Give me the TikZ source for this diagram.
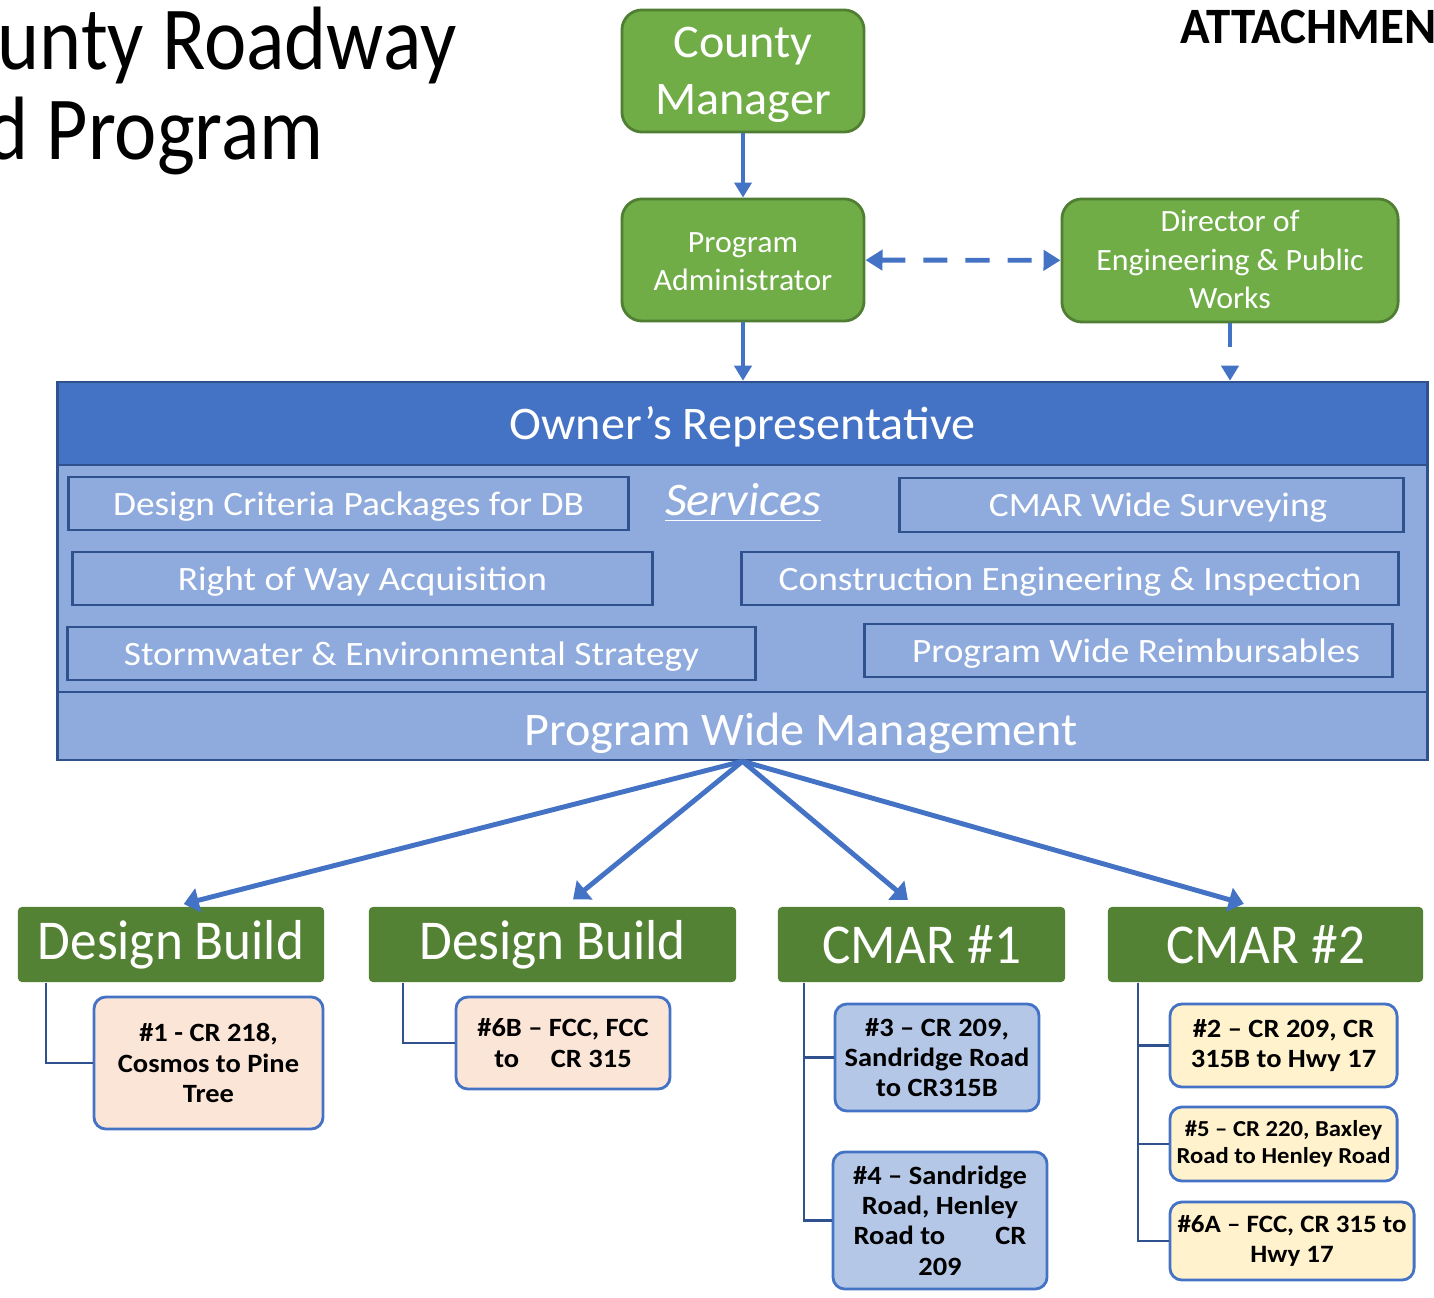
\documentclass[tikz,border=0pt]{standalone}
\usepackage{fontspec}
\setmainfont{Carlito}[FakeStretch=1.03]
\newfontfamily\svcfont{Carlito}[FakeStretch=1.095]
\newfontfamily\projfont{Carlito}[FakeStretch=1.08]
\newfontfamily\phasefont{Carlito}[FakeStretch=0.945]
\newfontfamily\titlefont{Carlito}[FakeStretch=0.89]
\newfontfamily\attfont{Carlito}[FakeStretch=0.96]
\usetikzlibrary{arrows.meta,positioning}
\definecolor{lgreen}{HTML}{70AD47}
\definecolor{lgreenline}{HTML}{507E32}
\definecolor{dgreen}{HTML}{548235}
\definecolor{dblue}{HTML}{4472C4}
\definecolor{dblueline}{HTML}{2F528F}
\definecolor{lblue}{HTML}{8FAADC}
\definecolor{peach}{HTML}{FBE5D6}
\definecolor{pblue}{HTML}{B4C7E7}
\definecolor{pyellow}{HTML}{FFF2CC}
% stacked lines, dropped a little inside the box
\newcommand{\droptext}[2]{\raisebox{-#1}[\height][\depth]{\begin{tabular}{@{}c@{}}#2\end{tabular}}}
\begin{document}
\begin{tikzpicture}[x=0.01cm,y=-0.01cm,
    every node/.append style={inner sep=0pt,align=center},
    topbox/.style={draw=lgreenline,fill=lgreen,line width=0.8pt,rounded corners=0.2cm,text=white},
    band/.style={draw=dblueline,line width=0.7pt,minimum width=13.69cm},
    svcbox/.style={draw=dblueline,fill=lblue,line width=0.8pt,text=white,minimum height=0.53cm,
      text depth=0pt,font=\svcfont\fontsize{9.7}{11}\selectfont},
    phase/.style={fill=dgreen,rounded corners=0.04cm,text=white,minimum height=0.75cm,
      font=\phasefont\fontsize{16}{19}\selectfont},
    proj/.style={draw=dblue,line width=0.8pt,rounded corners=0.12cm,
      font=\projfont\bfseries\fontsize{7.5}{8.6}\selectfont},
    flow/.style={dblue,line width=1.1pt,-{Triangle[width=0.17cm,length=0.15cm]}},
    fan/.style={dblue,line width=1.4pt,-{Triangle[width=0.24cm,length=0.15cm]}},
    elbow/.style={dblueline,line width=0.6pt}]
  \useasboundingbox (0,0) rectangle (1434,1298);
  \clip (0,0) rectangle (1434,1298);

  % title and header
  \node[anchor=base west,font=\titlefont\fontsize{25.6}{30}\selectfont] (TitleA) at (-3,70) {unty Roadway};
  \node[anchor=base west,font=\titlefont\fontsize{25.6}{30}\selectfont] (TitleB) at (-14,160) {d Program};
  \node[anchor=base west,font=\attfont\bfseries\fontsize{14.5}{17}\selectfont] (Attach) at (1180,44) {ATTACHMEN};

  % top of the chart
  \node[topbox,minimum width=2.42cm,minimum height=1.22cm,font=\fontsize{13.3}{16.2}\selectfont] (County) at (743,71) {\droptext{1.1pt}{County\\Manager}};
  \node[topbox,minimum width=2.42cm,minimum height=1.22cm,font=\fontsize{8.8}{10.8}\selectfont] (ProgAdmin) at (743,260) {\droptext{1pt}{Program\\Administrator}};
  \node[topbox,minimum width=3.36cm,minimum height=1.23cm,font=\fontsize{8.8}{10.9}\selectfont] (Director) at (1230,260.5) {\droptext{0.6pt}{Director of\\Engineering \& Public\\Works}};

  % owner's representative
  \node[band,fill=dblue,minimum height=0.83cm,text=white,text depth=0pt,font=\fontsize{13.3}{16}\selectfont] (OwnerRep) at (742.5,423.5) {Owner’s Representative};
  \node[band,fill=lblue,minimum height=2.27cm] (Services) at (742.5,578.5) {};
  \node[band,fill=lblue,minimum height=0.68cm] (PWM) at (742.5,726) {};
  \node[text=white,text depth=0pt,font=\fontsize{13.3}{16}\selectfont] (PWMText) at (801,729) {Program Wide Management};
  \node[text=white,font=\itshape\fontsize{13.3}{15}\selectfont] (SvcTitle) at (743,503) {\underline{Services}};

  \node[svcbox,minimum width=5.59cm] (DCP) at (348.5,503.5) {Design Criteria Packages for DB};
  \node[svcbox,minimum width=5.03cm,minimum height=0.54cm] (Survey) at (1151.5,505) {\hspace{0.13cm}CMAR Wide Surveying};
  \node[svcbox,minimum width=5.79cm] (ROW) at (362.5,578.5) {Right of Way Acquisition};
  \node[svcbox,minimum width=6.56cm] (CEI) at (1070,578.5) {Construction Engineering \& Inspection};
  \node[svcbox,minimum width=6.87cm] (SES) at (411.5,653.5) {Stormwater \& Environmental Strategy};
  \node[svcbox,minimum width=5.27cm] (PWR) at (1128.5,650.5) {\hspace{0.15cm}Program Wide Reimbursables};

  % delivery groups
  \node[phase,minimum width=3.06cm] (DB1) at (171,944.5) {Design Build};
  \node[phase,minimum width=3.67cm] (DB2) at (552.5,944.5) {Design Build};
  \node[phase,minimum width=2.87cm] (CMAR1) at (921.5,944.5) {CMAR \#1};
  \node[phase,minimum width=3.15cm] (CMAR2) at (1265.5,944.5) {CMAR \#2};

  % projects
  \node[proj,fill=peach,minimum width=2.29cm,minimum height=1.32cm] (P1) at (208.5,1063) {\#1 - CR 218,\\Cosmos to Pine\\Tree};
  \node[proj,fill=peach,minimum width=2.14cm,minimum height=0.92cm] (P6B) at (563,1043) {\#6B – FCC, FCC\\to\hspace{1.2em}CR 315};
  \node[proj,fill=pblue,minimum width=2.04cm,minimum height=1.07cm] (P3) at (937,1057.5) {\#3 – CR 209,\\Sandridge Road\\to CR315B};
  \node[proj,fill=pblue,minimum width=2.14cm,minimum height=1.37cm] (P4) at (940,1220.5) {\#4 – Sandridge\\Road, Henley\\Road to\hspace{1.9em}CR\\209};
  \node[proj,fill=pyellow,minimum width=2.27cm,minimum height=0.83cm] (P2) at (1283.5,1045.5) {\#2 – CR 209, CR\\315B to Hwy 17};
  \node[proj,fill=pyellow,minimum width=2.27cm,minimum height=0.74cm,font=\projfont\bfseries\fontsize{6.5}{7.8}\selectfont] (P5) at (1283.5,1144) {\#5 – CR 220, Baxley\\Road to Henley Road};
  \node[proj,fill=pyellow,minimum width=2.44cm,minimum height=0.78cm,font=\projfont\bfseries\fontsize{7.1}{8.4}\selectfont] (P6A) at (1292,1241) {\#6A – FCC, CR 315 to\\Hwy 17};

  % arrows
  \draw[flow] (County) -- (ProgAdmin);
  \draw[flow] (ProgAdmin) -- (ProgAdmin |- OwnerRep.north);
  \draw[flow,dash pattern=on 0.24cm off 0.4cm] (Director) -- (Director |- OwnerRep.north);
  \draw[dblue,line width=1.4pt,dash pattern=on 0.24cm off 0.18cm,
    {Triangle[width=0.2cm,length=0.17cm]}-{Triangle[width=0.2cm,length=0.17cm]}] (ProgAdmin) -- (Director);

  \draw[fan,shorten >=0.09cm] (PWM.south) -- ([xshift=0.04cm]DB1.north);
  \draw[fan,shorten >=0.11cm] (PWM.south) -- ([xshift=0.12cm]DB2.north);
  \draw[fan,shorten >=0.1cm] (PWM.south) -- ([xshift=-0.06cm]CMAR1.north);
  \draw[fan,shorten >=0.09cm] (PWM.south) -- ([xshift=-0.13cm]CMAR2.north);

  \draw[elbow] ([xshift=0.29cm]DB1.south west) |- (P1.west);
  \draw[elbow] ([xshift=0.35cm]DB2.south west) |- (P6B.west);
  \draw[elbow] ([xshift=0.27cm]CMAR1.south west) |- (P4.west);
  \draw[elbow] ([xshift=0.27cm]CMAR1.south west) |- (P3.west);
  \draw[elbow] ([xshift=0.31cm]CMAR2.south west) |- (P6A.west);
  \draw[elbow] ([xshift=0.31cm]CMAR2.south west) |- (P5.west);
  \draw[elbow] ([xshift=0.31cm]CMAR2.south west) |- (P2.west);
\end{tikzpicture}
\end{document}
